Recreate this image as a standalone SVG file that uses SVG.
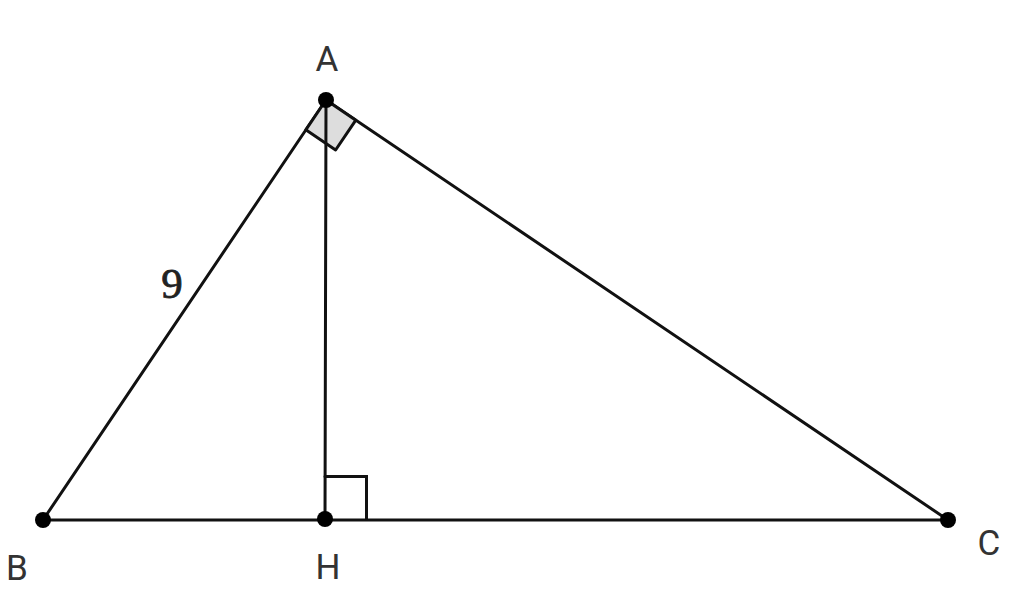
<svg xmlns="http://www.w3.org/2000/svg" width="1024" height="595" viewBox="0 0 1024 595">
<style>
.ln{stroke:#111;stroke-width:3;fill:none;stroke-linecap:round}
.pt{fill:#000}
.lb{font-family:Roboto,"Liberation Sans",sans-serif;font-size:35px;fill:#333;text-anchor:middle}
.num{font-family:"Liberation Serif",serif;font-size:43px;fill:#222;stroke:#222;stroke-width:0.8;text-anchor:middle}
</style>
<rect width="1024" height="595" fill="#fff"/>
<g id="connectors">
<line class="ln" x1="326" y1="100" x2="43" y2="520"/>
<line class="ln" x1="326" y1="100" x2="948" y2="520"/>
<line class="ln" x1="43" y1="520" x2="948" y2="520"/>
<polygon points="326,100 305.8,129.8 335.6,150 355.8,120.2" fill="#ddd" stroke="#111" stroke-width="3" stroke-linejoin="round"/>
<line class="ln" x1="326" y1="100" x2="325" y2="519"/>
<polyline class="ln" points="325,476.5 366.5,476.5 366.5,519"/>
<text class="num" x="172" y="298">9</text>
</g>
<g id="A"><circle class="pt" cx="326" cy="100" r="8"/><text class="lb" x="327" y="71">A</text></g>
<g id="B"><circle class="pt" cx="43" cy="520" r="8"/><text class="lb" x="17" y="580">B</text></g>
<g id="H"><circle class="pt" cx="325" cy="519" r="8"/><text class="lb" x="328" y="579">H</text></g>
<g id="C"><circle class="pt" cx="948" cy="520" r="8"/><text class="lb" x="989" y="555">C</text></g>
</svg>
